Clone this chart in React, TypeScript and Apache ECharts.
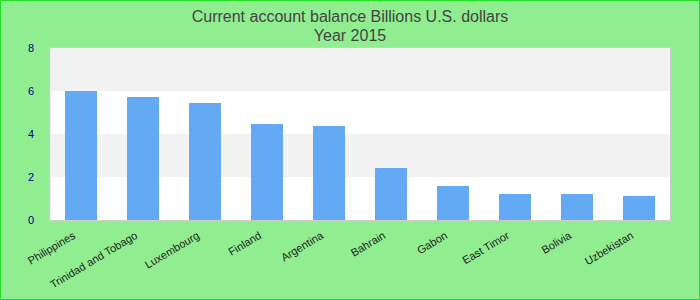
import React, { useEffect, useRef } from "react";
import * as echarts from "echarts";

const categories = ["Philippines", "Trinidad and Tobago", "Luxembourg", "Finland", "Argentina", "Bahrain", "Gabon", "East Timor", "Bolivia", "Uzbekistan"];
const values = [6.0, 5.72, 5.44, 4.47, 4.37, 2.42, 1.58, 1.21, 1.21, 1.12];
const yTicks = [0, 2, 4, 6, 8];

export default function App() {
  const ref = useRef<HTMLDivElement>(null);
  useEffect(() => {
    document.body.style.margin = "0";
    const chart = echarts.init(ref.current!, null, { renderer: "svg" });
    chart.setOption({
      animation: false,
      backgroundColor: "#90ee90",
      textStyle: { fontFamily: "Liberation Sans, Arial, sans-serif" },
      title: {
        text: "Current account balance Billions U.S. dollars\nYear 2015",
        left: "center",
        top: 2,
        textStyle: { fontSize: 16, fontWeight: "normal", color: "#444", lineHeight: 19 },
      },
      graphic: [
        {
          type: "rect",
          shape: { x: 0.5, y: 0.5, width: 699, height: 299 },
          style: { fill: "none", stroke: "#22dd22", lineWidth: 1 },
          silent: true,
        },
        {
          type: "rect",
          z: 10,
          shape: { x: 49.5, y: 47.5, width: 621, height: 173 },
          style: { fill: "none", stroke: "#cccccc", lineWidth: 1 },
          silent: true,
        },
      ],
      grid: { left: 50, right: 30, top: 48, bottom: 80, containLabel: false },
      xAxis: {
        type: "category",
        data: categories,
        axisLine: { show: false },
        axisTick: { show: false },
        axisLabel: { interval: 0, rotate: 31, fontSize: 11, color: "#222", margin: 10, padding: [0, 8, 0, 0] },
      },
      yAxis: {
        type: "value",
        min: yTicks[0],
        max: yTicks[yTicks.length - 1],
        interval: 2,
        axisLine: { show: false },
        axisTick: { show: false },
        splitLine: { show: false },
        splitArea: { show: true, areaStyle: { color: ["#ffffff", "#f2f2f2"] } },
        axisLabel: { fontSize: 11, color: "#00008b", margin: 16 },
      },
      series: [
        {
          type: "bar",
          data: values,
          barWidth: 32,
          itemStyle: { color: "#63a9f4" },
        },
      ],
    });
    return () => chart.dispose();
  }, []);
  return <div ref={ref} style={{ width: 700, height: 300 }} />;
}
